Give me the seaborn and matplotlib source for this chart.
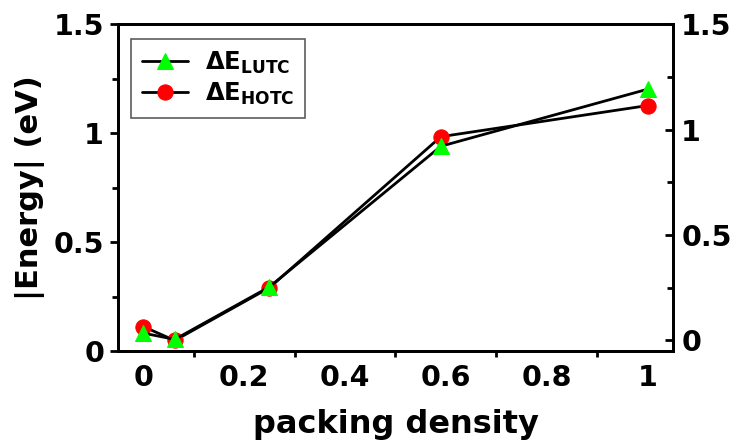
import matplotlib
matplotlib.use("Agg")
import matplotlib.pyplot as plt
from matplotlib.ticker import MultipleLocator
import seaborn as sns
import pandas as pd

sns.set_theme(style="white")
plt.rcParams["font.family"] = ["DejaVu Sans"]
plt.rcParams["font.weight"] = "bold"
plt.rcParams["mathtext.fontset"] = "dejavusans"
plt.rcParams["text.color"] = "black"
plt.rcParams["axes.labelcolor"] = "black"

# packing density and energy differences
density = [0.0, 0.0625, 0.25, 0.59, 1.0]
e_lutc = [0.082, 0.053, 0.294, 0.940, 1.202]
e_hotc = [0.112, 0.048, 0.290, 0.984, 1.127]

df = pd.DataFrame({"density": density, "lutc": e_lutc, "hotc": e_hotc})

fig = plt.figure(figsize=(7.33, 4.42), dpi=100)
ax = fig.add_axes([0.161, 0.206, 0.757, 0.739])

sns.lineplot(data=df, x="density", y="hotc", ax=ax, color="black", lw=2,
             marker="o", markersize=11, markerfacecolor="#ff0000",
             markeredgecolor="#ff0000", label=r"$\mathbf{\Delta E_{HOTC}}$")
sns.lineplot(data=df, x="density", y="lutc", ax=ax, color="black", lw=2,
             marker="^", markersize=12, markerfacecolor="#00ff00",
             markeredgecolor="#00ff00", label=r"$\mathbf{\Delta E_{LUTC}}$")

ax.set_xlim(-0.05, 1.05)
ax.set_ylim(0, 1.5)
ax.xaxis.set_minor_locator(MultipleLocator(0.1))
ax.yaxis.set_minor_locator(MultipleLocator(0.25))
ax.set_xticks([0, 0.2, 0.4, 0.6, 0.8, 1.0])
ax.set_xticklabels(["0", "0.2", "0.4", "0.6", "0.8", "1"])
ax.set_yticks([0, 0.5, 1.0, 1.5])
ax.set_yticklabels(["0", "0.5", "1", "1.5"])

for s in ax.spines.values():
    s.set_linewidth(2)
    s.set_color("black")

ax.tick_params(axis="both", which="both", direction="out", width=2,
               colors="black", labelsize=20.5, top=False, right=False)
ax.tick_params(axis="both", which="major", length=6)
ax.tick_params(axis="both", which="minor", length=4, bottom=True, left=True)
ax.tick_params(axis="y", which="major", pad=4)

ax.set_xlabel("packing density", fontsize=23, fontweight="bold",
              labelpad=12, color="black")
ax.set_ylabel("|Energy| (eV)", fontsize=22, fontweight="bold",
              labelpad=6, color="black")

handles, labels = ax.get_legend_handles_labels()
leg = ax.legend(handles[::-1], labels[::-1], loc="upper left",
                bbox_to_anchor=(0.023, 0.956), borderaxespad=0,
                fontsize=17.5, frameon=True, fancybox=False,
                edgecolor="#333333", handlelength=1.9,
                handletextpad=0.7, borderpad=0.45, labelspacing=0.2)
leg.get_frame().set_linewidth(1.2)

ax2 = ax.twinx()
ax2.set_ylim(-0.05, 1.5)
ax2.set_yticks([0, 0.5, 1.0, 1.5])
ax2.set_yticklabels(["0", "0.5", "1", "1.5"])
ax2.yaxis.set_minor_locator(MultipleLocator(0.25))
ax2.tick_params(axis="y", which="both", direction="in", width=2,
                colors="black", labelsize=20.5, pad=6)
ax2.tick_params(axis="y", which="major", length=6)
ax2.tick_params(axis="y", which="minor", length=4)
ax2.grid(False)
for s in ax2.spines.values():
    s.set_linewidth(2)
    s.set_color("black")

fig.savefig("out.png", dpi=100)
